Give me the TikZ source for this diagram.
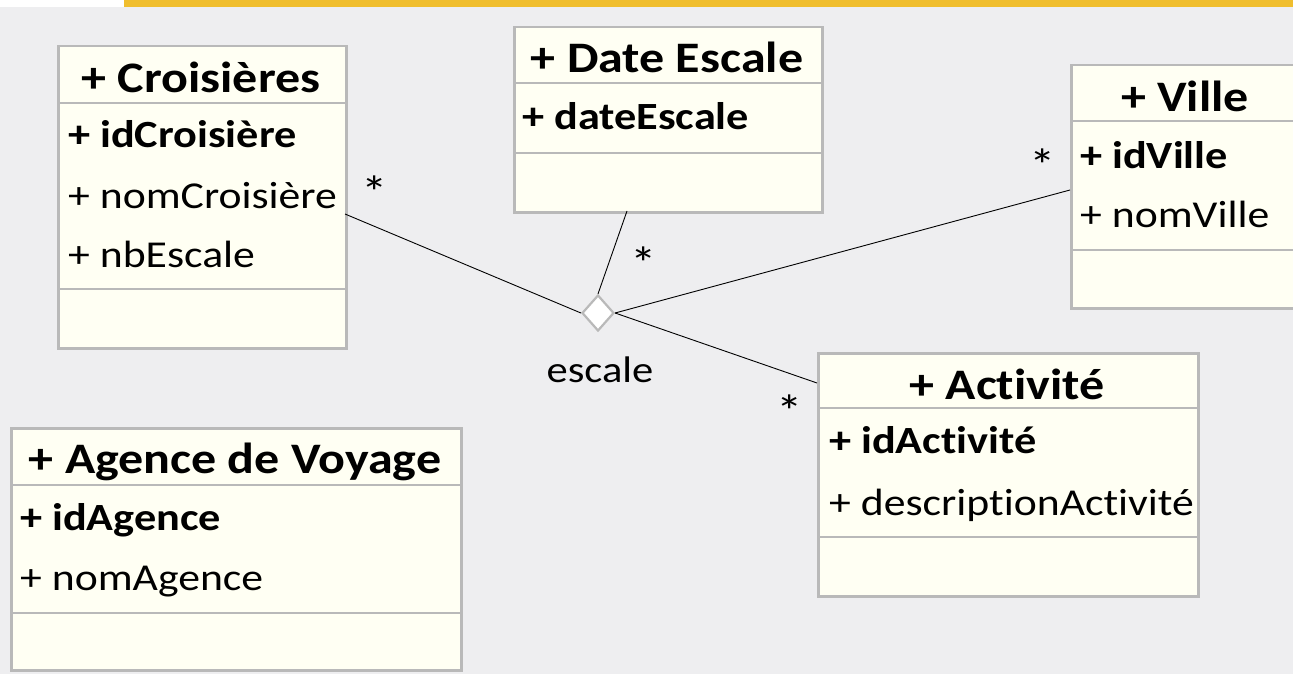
\documentclass[tikz,border=0pt]{standalone}
\usepackage{fontspec}
\setmainfont{Carlito}[FakeStretch=1.15, Ligatures=NoCommon]
\usetikzlibrary{shapes.geometric}
\definecolor{bgcol}{HTML}{EEEEF0}
\definecolor{boxfill}{HTML}{FFFFF3}
\definecolor{boxline}{HTML}{B9B9B9}
\definecolor{barcol}{HTML}{F0BE2E}
\tikzset{
  classbox/.style={draw=boxline, line width=2.5pt, fill=boxfill, rectangle,
    anchor=north west, inner sep=0pt},
  divider/.style={draw=boxline, line width=2.5pt},
  titletext/.style={anchor=base, inner sep=0pt, font=\fontsize{43.5}{50}\selectfont\bfseries},
  keytext/.style={anchor=base west, inner sep=0pt, font=\fontsize{38.5}{44}\selectfont\bfseries},
  attrtext/.style={anchor=base west, inner sep=0pt, font=\fontsize{38}{44}\selectfont},
  labeltext/.style={anchor=base, inner sep=0pt, font=\fontsize{37}{42}\selectfont},
  multtext/.style={anchor=base, inner sep=0pt, font=\fontsize{46}{50}\selectfont},
  link/.style={draw=black, line width=0.9pt},
  joint/.style={diamond, draw=boxline, line width=2.2pt, fill=white, inner sep=0pt,
    minimum width=32pt, minimum height=36pt}
}
\begin{document}
\begin{tikzpicture}[x=1pt,y=-1pt]
  % page and top band
  \fill[bgcol] (0,0) rectangle (1293,674);
  \useasboundingbox (0,0) rectangle (1293,674);
  \fill[white] (0,0) rectangle (124,7);
  \fill[barcol] (124,0) rectangle (1293,7);

  % Croisieres
  \node[classbox, minimum width=288pt, minimum height=302pt] (croi) at (57,45) {};
  \draw[divider] (57,103) -- (345,103);
  \draw[divider] (57,289) -- (345,289);
  \node[titletext] (croiT) at (201,93) {+ Croisières};
  \node[keytext] (croiA) at (68,147) {+ idCroisière};
  \node[attrtext] (croiB) at (68,208) {+ nomCroisière};
  \node[attrtext] (croiC) at (68,267) {+ nbEscale};

  % Date Escale
  \node[classbox, minimum width=308pt, minimum height=185pt] (date) at (513,26) {};
  \draw[divider] (513,83) -- (821,83);
  \draw[divider] (513,153) -- (821,153);
  \node[titletext] (dateT) at (667,73) {+ Date Escale};
  \node[keytext] (dateA) at (522,130) {+ dateEscale};

  % Ville
  \node[classbox, minimum width=230pt, minimum height=243pt] (ville) at (1070,64) {};
  \draw[divider] (1070,121) -- (1300,121);
  \draw[divider] (1070,250) -- (1300,250);
  \node[titletext] (villeT) at (1185,112) {+ Ville};
  \node[keytext] (villeA) at (1080,168) {+ idVille};
  \node[attrtext] (villeB) at (1080,227) {+ nomVille};

  % Activite
  \node[classbox, minimum width=380pt, minimum height=243pt] (act) at (817,352) {};
  \draw[divider] (817,408) -- (1197,408);
  \draw[divider] (817,537) -- (1197,537);
  \node[titletext] (actT) at (1007,399) {+ Activité};
  \node[keytext] (actA) at (829,453) {+ idActivité};
  \node[attrtext] (actB) at (829,515) {+ descriptionActivité};

  % Agence de Voyage
  \node[classbox, minimum width=450pt, minimum height=242pt] (agence) at (10,427) {};
  \draw[divider] (10,485) -- (460,485);
  \draw[divider] (10,613) -- (460,613);
  \node[titletext] (agenceT) at (235,473) {+ Agence de Voyage};
  \node[keytext] (agenceA) at (20,530) {+ idAgence};
  \node[attrtext] (agenceB) at (20,590) {+ nomAgence};

  % n-ary association "escale"
  \node[joint] (esc) at (598,313) {};
  \node[labeltext] (escL) at (600,382) {escale};

  \coordinate (croiP) at (345,214);
  \coordinate (dateP) at (627,211);
  \coordinate (villeP) at (1070,190);
  \coordinate (actP) at (817,383);

  \draw[link] (croiP) -- (esc.west);
  \draw[link] (dateP) -- (esc.north);
  \draw[link] (villeP) -- (esc.east);
  \draw[link] (esc.east) -- (actP);

  % multiplicities
  \node[multtext] (m1) at (375,208) {*};
  \node[multtext] (m2) at (644,279) {*};
  \node[multtext] (m3) at (1043,182) {*};
  \node[multtext] (m4) at (790,427) {*};
\end{tikzpicture}
\end{document}
